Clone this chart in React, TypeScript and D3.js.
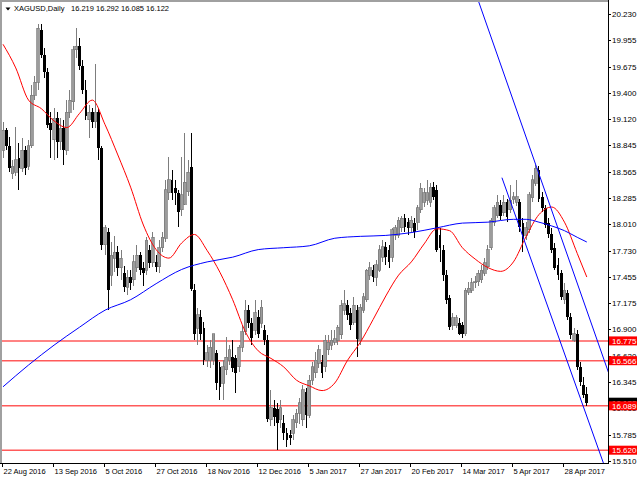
import React, { useEffect, useRef } from "react";
import * as d3 from "d3";

const symbolTitle = "XAGUSD,Daily";
const lastQuote = "16.219 16.292 16.085 16.122";

// daily OHLC, 22 Aug 2016 .. 9 May 2017
const opens = [
  18.79, 19.0, 18.84, 18.54, 18.56, 18.71, 18.6, 18.79, 18.62, 18.84,
  19.37, 19.51, 20.06, 19.8, 19.62, 19.08, 18.9, 19.13, 18.88, 19.02,
  18.79, 19.19, 19.3, 19.85, 19.89, 19.68, 19.43, 19.11, 19.19, 19.09,
  19.19, 18.81, 17.79, 17.93, 17.47, 17.65, 17.71, 17.55, 17.49, 17.34,
  17.45, 17.42, 17.55, 17.68, 17.55, 17.52, 17.74, 17.6, 17.61, 17.56,
  17.76, 17.86, 18.34, 18.48, 18.39, 18.34, 18.16, 18.22, 18.35, 18.61,
  17.31, 16.91, 17.03, 16.91, 16.57, 16.57, 16.57, 16.65, 16.5, 16.33,
  16.47, 16.57, 16.6, 16.59, 16.5, 16.71, 16.87, 17.1, 16.96, 16.89,
  17.03, 16.96, 16.89, 16.78, 15.94, 16.07, 16.06, 15.94, 15.91, 15.8,
  15.78, 15.8, 15.91, 16.01, 15.94, 16.23, 15.99, 16.36, 16.44, 16.54,
  16.55, 16.5, 16.68, 16.73, 16.76, 16.78, 16.84, 17.1, 17.15, 17.07,
  16.97, 17.1, 16.78, 17.1, 17.21, 17.47, 17.52, 17.45, 17.52, 17.66,
  17.77, 17.74, 17.66, 17.89, 17.89, 17.97, 18.07, 18.03, 17.97, 18.02,
  18.03, 18.16, 18.24, 18.26, 18.24, 18.4, 18.37, 17.89, 17.74, 17.47,
  17.23, 16.94, 16.94, 16.96, 16.94, 16.85, 17.29, 17.31, 17.39, 17.4,
  17.42, 17.49, 17.56, 17.76, 18.03, 18.1, 18.21, 18.13, 18.24, 18.16,
  18.27, 18.24, 18.24, 18.02, 17.89, 17.95, 18.29, 18.44, 18.58, 18.3,
  18.18, 18.02, 17.91, 17.76, 17.58, 17.49, 17.21, 17.28, 17.03, 16.78,
  16.85, 16.5, 16.31, 16.219,
];
const highs = [
  19.09, 19.02, 18.93, 18.69, 19.04, 18.87, 18.92, 18.84, 18.9, 19.48,
  19.58, 20.12, 20.12, 19.87, 19.66, 19.19, 19.24, 19.19, 19.13, 19.11,
  19.32, 19.43, 19.89, 20.08, 19.98, 19.74, 19.53, 19.27, 19.24, 19.7,
  19.24, 18.84, 18.0, 17.97, 17.82, 17.88, 17.78, 17.74, 17.57, 17.52,
  17.52, 17.68, 17.79, 17.71, 17.61, 17.87, 17.79, 17.93, 17.68, 17.84,
  17.93, 18.48, 18.72, 18.58, 18.48, 18.37, 18.72, 18.97, 18.69, 18.97,
  17.38, 17.12, 17.1, 16.97, 16.73, 16.78, 16.85, 16.68, 16.55, 16.57,
  16.82, 16.73, 16.78, 16.63, 16.73, 16.94, 17.21, 17.15, 17.02, 17.21,
  17.1, 17.21, 16.94, 16.84, 16.26, 16.15, 16.12, 16.15, 15.99, 15.85,
  15.83, 15.99, 16.06, 16.17, 16.31, 16.28, 16.41, 16.55, 16.66, 16.73,
  16.63, 16.84, 16.84, 16.89, 16.89, 16.94, 17.21, 17.31, 17.21, 17.12,
  17.24, 17.15, 17.17, 17.28, 17.54, 17.61, 17.58, 17.63, 17.79, 17.84,
  17.82, 17.79, 17.97, 18.0, 18.08, 18.1, 18.12, 18.07, 18.1, 18.07,
  18.21, 18.44, 18.39, 18.48, 18.44, 18.45, 18.42, 17.97, 17.79, 17.52,
  17.26, 17.07, 17.05, 17.02, 16.97, 17.33, 17.4, 17.44, 17.46, 17.52,
  17.58, 17.65, 17.79, 18.07, 18.21, 18.32, 18.26, 18.32, 18.28, 18.42,
  18.35, 18.48, 18.28, 18.07, 18.03, 18.35, 18.53, 18.63, 18.62, 18.35,
  18.21, 18.07, 17.97, 17.81, 17.65, 17.52, 17.39, 17.31, 17.07, 16.91,
  16.89, 16.55, 16.39, 16.292,
];
const lows = [
  18.71, 18.79, 18.56, 18.49, 18.52, 18.37, 18.56, 18.53, 18.58, 18.81,
  19.32, 19.43, 19.76, 19.55, 19.02, 18.71, 18.69, 18.71, 18.79, 18.63,
  18.74, 19.13, 19.22, 19.76, 19.64, 19.38, 19.11, 18.92, 19.02, 19.02,
  18.69, 17.74, 17.68, 17.1, 17.36, 17.5, 17.46, 17.42, 17.29, 17.26,
  17.31, 17.36, 17.5, 17.47, 17.36, 17.47, 17.55, 17.56, 17.5, 17.49,
  17.71, 17.82, 18.26, 18.26, 18.21, 17.98, 18.1, 18.21, 18.31, 17.3,
  16.78, 16.73, 16.78, 16.52, 16.5, 16.49, 16.52, 16.26, 16.15, 16.15,
  16.41, 16.52, 16.45, 16.22, 16.45, 16.66, 16.84, 16.91, 16.73, 16.84,
  16.81, 16.91, 16.73, 15.92, 15.88, 15.88, 15.62, 15.85, 15.73, 15.65,
  15.67, 15.73, 15.85, 15.9, 15.88, 15.85, 15.96, 16.31, 16.38, 16.49,
  16.38, 16.45, 16.63, 16.68, 16.73, 16.73, 16.8, 17.05, 17.0, 16.89,
  16.94, 16.6, 16.73, 17.07, 17.19, 17.42, 17.4, 17.36, 17.5, 17.61,
  17.58, 17.55, 17.61, 17.84, 17.86, 17.93, 17.93, 17.89, 17.92, 17.86,
  17.95, 18.13, 18.19, 18.21, 18.19, 18.26, 17.71, 17.61, 17.41, 17.17,
  16.89, 16.89, 16.91, 16.84, 16.81, 16.83, 17.26, 17.28, 17.33, 17.36,
  17.39, 17.46, 17.52, 17.74, 17.99, 18.07, 18.05, 18.09, 18.03, 18.13,
  18.22, 18.2, 17.93, 17.71, 17.84, 17.92, 18.24, 18.41, 18.24, 18.14,
  17.97, 17.86, 17.7, 17.52, 17.42, 17.21, 17.17, 17.0, 16.8, 16.76,
  16.47, 16.3, 16.17, 16.085,
];
const closes = [
  19.0, 18.84, 18.6, 18.62, 18.69, 18.6, 18.79, 18.6, 18.84, 19.37,
  19.51, 20.08, 19.8, 19.62, 19.06, 19.0, 19.13, 18.88, 19.02, 18.79,
  19.19, 19.32, 19.85, 19.89, 19.68, 19.43, 19.15, 19.19, 19.09, 19.19,
  18.81, 17.79, 17.97, 17.31, 17.68, 17.71, 17.55, 17.65, 17.34, 17.45,
  17.39, 17.61, 17.68, 17.52, 17.49, 17.84, 17.6, 17.87, 17.56, 17.76,
  17.87, 18.37, 18.48, 18.34, 18.34, 18.14, 18.32, 18.45, 18.56, 17.32,
  16.85, 17.05, 16.85, 16.57, 16.65, 16.71, 16.85, 16.33, 16.29, 16.5,
  16.6, 16.68, 16.49, 16.44, 16.71, 16.87, 17.1, 16.96, 16.81, 17.07,
  16.85, 17.13, 16.78, 15.95, 16.07, 15.97, 15.91, 16.07, 15.8, 15.73,
  15.75, 15.94, 16.01, 16.12, 16.26, 15.99, 16.36, 16.5, 16.57, 16.68,
  16.44, 16.78, 16.76, 16.78, 16.8, 16.92, 17.15, 17.17, 17.05, 16.94,
  17.15, 16.8, 17.13, 17.24, 17.52, 17.55, 17.45, 17.58, 17.74, 17.77,
  17.66, 17.61, 17.95, 17.97, 18.05, 18.07, 17.98, 17.97, 18.05, 17.93,
  18.18, 18.39, 18.34, 18.34, 18.4, 18.3, 17.74, 17.76, 17.47, 17.21,
  16.92, 17.02, 17.02, 16.85, 16.85, 17.31, 17.33, 17.39, 17.4, 17.49,
  17.52, 17.6, 17.74, 18.05, 18.18, 18.24, 18.1, 18.24, 18.08, 18.26,
  18.3, 18.3, 17.98, 17.86, 17.97, 18.32, 18.48, 18.6, 18.28, 18.18,
  18.0, 17.91, 17.74, 17.55, 17.47, 17.24, 17.31, 17.03, 16.84, 16.85,
  16.5, 16.34, 16.2, 16.122,
];

const dateTickBars = [0, 16, 32, 48, 64, 80, 96, 112, 128, 144, 160, 176];
const dateLabels = [
  "22 Aug 2016", "13 Sep 2016", "5 Oct 2016", "27 Oct 2016", "18 Nov 2016", "12 Dec 2016",
  "5 Jan 2017", "27 Jan 2017", "20 Feb 2017", "14 Mar 2017", "5 Apr 2017", "28 Apr 2017",
];
const priceTicks = [
  20.23, 19.955, 19.675, 19.4, 19.12, 18.845, 18.565, 18.285, 18.01,
  17.73, 17.455, 17.175, 16.9, 16.62, 16.345, 16.065, 15.785, 15.51,
];

// moving averages, sampled at bar numbers
const maBars = [
  0, 4, 8, 12, 16, 20, 24, 28, 32, 36, 40, 44, 48, 52, 56, 60, 64, 68, 72, 76,
  80, 84, 88, 92, 96, 100, 104, 108, 112, 116, 120, 124, 128, 132, 136, 140,
  144, 148, 152, 156, 160, 164, 168, 172, 176, 180, 183,
];
const redMa = [
  19.91, 19.66, 19.32, 19.23, 19.1, 19.03, 19.18, 19.32, 19.06, 18.74, 18.4, 18.0,
  17.74, 17.65, 17.81, 17.9, 17.73, 17.5, 17.21, 16.87, 16.67, 16.59, 16.5, 16.36,
  16.3, 16.25, 16.33, 16.57, 16.76, 17.0, 17.25, 17.47, 17.61, 17.8, 17.96, 17.94,
  17.76, 17.64, 17.55, 17.51, 17.61, 17.88, 18.11, 18.19, 18.03, 17.7, 17.45,
];
const blueMaBars = [
  0, 8, 16, 24, 32, 40, 48, 56, 64, 72, 80, 88, 96, 104, 112, 120, 128, 136, 144,
  152, 160, 164, 168, 172, 176, 180, 183,
];
const blueMa = [
  16.29, 16.52, 16.73, 16.92, 17.1, 17.21, 17.38, 17.53, 17.61, 17.66, 17.74, 17.76,
  17.78, 17.86, 17.88, 17.89, 17.92, 17.97, 18.02, 18.03, 18.06, 18.06, 18.03, 17.99,
  17.94, 17.87, 17.82,
];

// channel lines: [bar, price] at both ends
const channelUpper = [[149, 20.37], [195, 15.94]];
const channelLower = [[156.4, 18.5], [195, 14.84]];

const levels = [16.775, 16.566, 16.089, 15.62];
const levelLabels = ["16.775", "16.566", "16.089", "15.620"];
const lastPrice = 16.122;

const FONT = "Tahoma, 'Liberation Sans', Arial, sans-serif";

export default function App() {
  const ref = useRef<SVGSVGElement>(null);

  useEffect(() => {
    const svg = d3.select(ref.current);
    svg.selectAll("*").remove();

    const plotRight = 608;
    const plotBottom = 463;

    const x = d3.scaleLinear().domain([0, 183]).range([3, 586.8]);
    const y = d3.scaleLinear().domain([15.51, 20.23]).range([460.6, 14]);

    svg.append("rect").attr("width", 640).attr("height", 480).attr("fill", "#fff");

    svg
      .append("defs")
      .append("clipPath")
      .attr("id", "plot")
      .append("rect")
      .attr("x", 2)
      .attr("y", 2)
      .attr("width", plotRight - 2)
      .attr("height", plotBottom - 2);

    const plot = svg.append("g").attr("clip-path", "url(#plot)");

    // horizontal levels
    plot
      .selectAll("line.level")
      .data(levels)
      .enter()
      .append("line")
      .attr("class", "level")
      .attr("x1", 0)
      .attr("x2", plotRight)
      .attr("y1", d => y(d))
      .attr("y2", d => y(d))
      .attr("stroke", "#ff5a5a")
      .attr("stroke-width", 1.5);

    // candles
    const idx = d3.range(closes.length);
    const bull = (i: number) => closes[i] >= opens[i];
    const candles = plot
      .selectAll("g.candle")
      .data(idx)
      .enter()
      .append("g")
      .attr("shape-rendering", "crispEdges");
    candles
      .append("line")
      .attr("x1", i => x(i))
      .attr("x2", i => x(i))
      .attr("y1", i => y(highs[i]))
      .attr("y2", i => y(lows[i]))
      .attr("stroke", i => (bull(i) ? "#7d7d7d" : "#000"))
      .attr("stroke-width", 1);
    candles
      .append("rect")
      .attr("x", i => x(i) - 1.4)
      .attr("width", 2.8)
      .attr("y", i => y(Math.max(opens[i], closes[i])))
      .attr("height", i => Math.max(1, Math.abs(y(opens[i]) - y(closes[i]))))
      .attr("fill", i => (bull(i) ? "#9c9c9c" : "#000"))
      .attr("stroke", i => (bull(i) ? "#777" : "none"))
      .attr("stroke-width", 0.7);

    // moving averages
    const redLine = d3
      .line<number>()
      .x((_, k) => x(maBars[k]))
      .y(d => y(d))
      .curve(d3.curveMonotoneX);
    plot
      .append("path")
      .attr("d", redLine(redMa))
      .attr("fill", "none")
      .attr("stroke", "#ff0000")
      .attr("stroke-width", 1);

    const blueLine = d3
      .line<number>()
      .x((_, k) => x(blueMaBars[k]))
      .y(d => y(d))
      .curve(d3.curveMonotoneX);
    plot
      .append("path")
      .attr("d", blueLine(blueMa))
      .attr("fill", "none")
      .attr("stroke", "#0000ff")
      .attr("stroke-width", 1);

    // channel
    [channelUpper, channelLower].forEach(c => {
      plot
        .append("line")
        .attr("x1", x(c[0][0]))
        .attr("y1", y(c[0][1]))
        .attr("x2", x(c[1][0]))
        .attr("y2", y(c[1][1]))
        .attr("stroke", "#0000ff")
        .attr("stroke-width", 1);
    });

    // frame
    svg.append("line").attr("x1", 0).attr("x2", plotRight).attr("y1", 1).attr("y2", 1)
      .attr("stroke", "#a0a0a0").attr("stroke-width", 2);
    svg.append("line").attr("x1", 1).attr("x2", 1).attr("y1", 0).attr("y2", plotBottom)
      .attr("stroke", "#a0a0a0").attr("stroke-width", 2);
    svg.append("line").attr("x1", plotRight + 0.5).attr("x2", plotRight + 0.5).attr("y1", 0).attr("y2", plotBottom + 1)
      .attr("stroke", "#000").attr("stroke-width", 1);
    svg.append("line").attr("x1", 0).attr("x2", plotRight + 1).attr("y1", plotBottom + 0.5).attr("y2", plotBottom + 0.5)
      .attr("stroke", "#000").attr("stroke-width", 1);

    // price axis
    const pAxis = svg.append("g").attr("font-family", FONT).attr("font-size", 8);
    priceTicks.forEach(p => {
      pAxis.append("line").attr("x1", plotRight).attr("x2", plotRight + 3)
        .attr("y1", Math.round(y(p)) + 0.5).attr("y2", Math.round(y(p)) + 0.5).attr("stroke", "#000");
      pAxis.append("text").attr("x", plotRight + 4).attr("y", y(p) + 3).text(p.toFixed(3));
    });

    // current price box
    pAxis.append("rect").attr("x", plotRight + 1).attr("y", y(lastPrice) - 5)
      .attr("width", 28).attr("height", 10).attr("fill", "#000");
    pAxis.append("text").attr("x", plotRight + 4).attr("y", y(lastPrice) + 3)
      .attr("fill", "#fff").text(lastPrice.toFixed(3));

    levels.forEach((lv, k) => {
      pAxis.append("rect").attr("x", plotRight + 1).attr("y", y(lv) - 4.5)
        .attr("width", 28).attr("height", 9).attr("fill", "#ff0000");
      pAxis.append("text").attr("x", plotRight + 4).attr("y", y(lv) + 3)
        .attr("fill", "#fff").text(levelLabels[k]);
    });

    // time axis
    const tAxis = svg.append("g").attr("font-family", FONT).attr("font-size", 7.5);
    dateTickBars.forEach((b, k) => {
      const xx = Math.round(x(b)) - 0.5;
      tAxis.append("line").attr("x1", xx).attr("x2", xx).attr("y1", plotBottom).attr("y2", plotBottom + 4)
        .attr("stroke", "#000");
      tAxis.append("text").attr("x", xx + 1).attr("y", plotBottom + 11).text(dateLabels[k]);
    });

    // header
    const head = svg.append("g").attr("font-family", FONT).attr("font-size", 7.5);
    head.append("path").attr("d", "M5.5,7.5 L10.5,7.5 L8,10.5 Z").attr("fill", "#000");
    head.append("text").attr("x", 14).attr("y", 11).text(symbolTitle);
    head.append("text").attr("x", 71).attr("y", 11).text(lastQuote);
  }, []);

  return (
    <div style={{ position: "fixed", left: 0, top: 0, width: 640, height: 480 }}>
      <svg ref={ref} width={640} height={480} style={{ display: "block" }} />
    </div>
  );
}
